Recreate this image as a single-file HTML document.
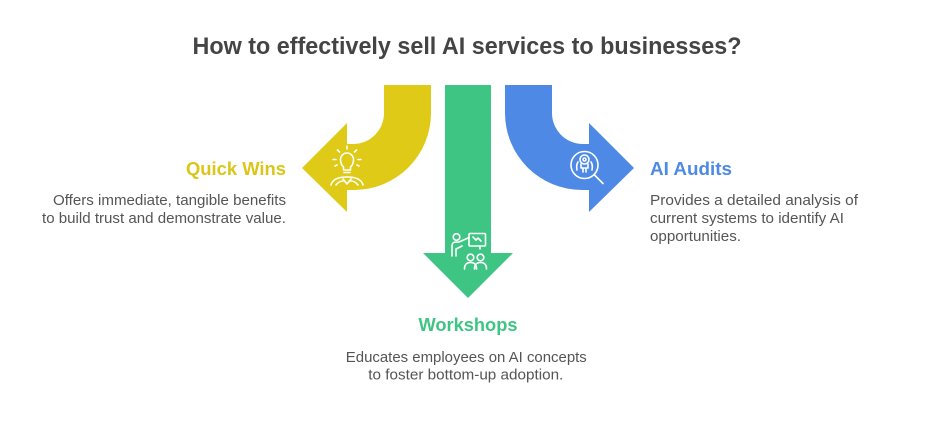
<!DOCTYPE html>
<html>
<head>
<meta charset="utf-8">
<style>
  html, body { margin: 0; padding: 0; background: #ffffff; }
  body { width: 936px; height: 438px; overflow: hidden; }
  svg { display: block; }
  text { font-family: "Liberation Sans", Arial, sans-serif; }
</style>
</head>
<body>
<svg width="936" height="438" viewBox="0 0 936 438" xmlns="http://www.w3.org/2000/svg">
  <rect width="936" height="438" fill="#ffffff"/>

  <!-- Title -->
  <text x="467" y="54" text-anchor="middle" font-size="24" font-weight="bold" fill="#444444" textLength="549" lengthAdjust="spacingAndGlyphs">How to effectively sell AI services to businesses?</text>

  <!-- Yellow arrow (left) -->
  <path d="M384 85 L431 85 L431 113 A77 77 0 0 1 354 190 L347 190 L347 212 L302 168 L347 123 L347 144 L354 144 A31 31 0 0 0 384 113 Z" fill="#DFCB17"/>

  <!-- Green arrow (down) -->
  <path d="M445 85 L491 85 L491 253 L513 253 L468 298 L423 253 L445 253 Z" fill="#3EC584"/>

  <!-- Blue arrow (right) -->
  <path d="M552 85 L505 85 L505 113 A77 77 0 0 0 582 190 L589 190 L589 212 L634 168 L589 123 L589 144 L582 144 A31 31 0 0 1 552 113 Z" fill="#4E8AE5"/>

  <!-- Bulb icon -->
  <g fill="none" stroke="#ffffff" stroke-width="1.6" stroke-linecap="round" stroke-linejoin="round">
    <path d="M343.5 170 L343.5 167 Q340.5 164.5 340.5 159.5 A6.5 6.5 0 0 1 353.5 159.5 Q353.5 164.5 350.5 167 L350.5 170 Z"/>
    <line x1="344" y1="172.5" x2="350" y2="172.5"/>
    <line x1="347" y1="146" x2="347" y2="149"/>
    <line x1="337.5" y1="150" x2="339.5" y2="152"/>
    <line x1="356.5" y1="150" x2="354.5" y2="152"/>
    <line x1="333" y1="159.5" x2="336" y2="159.5"/>
    <line x1="358" y1="159.5" x2="361" y2="159.5"/>
    <line x1="335" y1="166" x2="337" y2="165"/>
    <line x1="359" y1="166" x2="357" y2="165"/>
    <path d="M331 185 Q333 177 347 177 Q361 177 363 185"/>
    <path d="M336 185 Q339 181 343 181"/>
    <path d="M358 185 Q355 181 351 181"/>
    <path d="M343 179 L347 184 L351 179"/>
  </g>

  <!-- Workshop icon -->
  <g fill="none" stroke="#ffffff" stroke-width="1.6" stroke-linecap="round" stroke-linejoin="round">
    <circle cx="456.5" cy="237" r="3.3"/>
    <path d="M452 256 L452 246 Q452 242 456 242 L459 242 L468 238"/>
    <path d="M456 256 L456 249 L462 246"/>
    <rect x="469" y="233.5" width="16.5" height="12.5" rx="1"/>
    <path d="M473 237 L476 240 L478 238 L481 241"/>
    <line x1="480" y1="246" x2="480" y2="249"/>
    <circle cx="470.5" cy="257.5" r="3.3"/>
    <circle cx="480.5" cy="257.5" r="3.3"/>
    <path d="M464.5 269 Q464.5 262.5 470.5 262.5 Q476.5 262.5 476.5 269"/>
    <path d="M474.5 269 Q474.5 262.5 480.5 262.5 Q486.5 262.5 486.5 269"/>
  </g>

  <!-- Audit icon -->
  <g fill="none" stroke="#ffffff" stroke-width="1.6" stroke-linecap="round" stroke-linejoin="round">
    <circle cx="584.5" cy="165" r="13.5"/>
    <line x1="594.5" y1="175" x2="603" y2="183.5"/>
    <circle cx="584.5" cy="159.5" r="4.5"/>
    <circle cx="584.5" cy="159.5" r="1.5"/>
    <path d="M581 164 L581 168 L588 168 L588 164"/>
    <path d="M578 162 Q576 165 577 170"/>
    <path d="M591 162 Q593 165 592 170"/>
    <line x1="583" y1="168" x2="583" y2="172"/>
    <line x1="586" y1="168" x2="586" y2="172"/>
  </g>

  <!-- Quick Wins -->
  <text x="286" y="175" text-anchor="end" font-size="18.5" font-weight="bold" fill="#DBC617" textLength="100" lengthAdjust="spacingAndGlyphs">Quick Wins</text>
  <text x="286" y="205" text-anchor="end" font-size="14.5" fill="#555555" textLength="233" lengthAdjust="spacingAndGlyphs">Offers immediate, tangible benefits</text>
  <text x="286" y="223" text-anchor="end" font-size="14.5" fill="#555555" textLength="244" lengthAdjust="spacingAndGlyphs">to build trust and demonstrate value.</text>

  <!-- AI Audits -->
  <text x="650" y="175" font-size="18.5" font-weight="bold" fill="#4E8AE5" textLength="82" lengthAdjust="spacingAndGlyphs">AI Audits</text>
  <text x="650" y="205" font-size="14.5" fill="#555555" textLength="208" lengthAdjust="spacingAndGlyphs">Provides a detailed analysis of</text>
  <text x="650" y="223" font-size="14.5" fill="#555555" textLength="194" lengthAdjust="spacingAndGlyphs">current systems to identify AI</text>
  <text x="650" y="241" font-size="14.5" fill="#555555" textLength="91" lengthAdjust="spacingAndGlyphs">opportunities.</text>

  <!-- Workshops -->
  <text x="468" y="331" text-anchor="middle" font-size="18.5" font-weight="bold" fill="#3EC584" textLength="99" lengthAdjust="spacingAndGlyphs">Workshops</text>
  <text x="466.3" y="362" text-anchor="middle" font-size="14.5" fill="#555555" textLength="241" lengthAdjust="spacingAndGlyphs">Educates employees on AI concepts</text>
  <text x="465.8" y="379.5" text-anchor="middle" font-size="14.5" fill="#555555" textLength="195" lengthAdjust="spacingAndGlyphs">to foster bottom-up adoption.</text>
</svg>
</body>
</html>
